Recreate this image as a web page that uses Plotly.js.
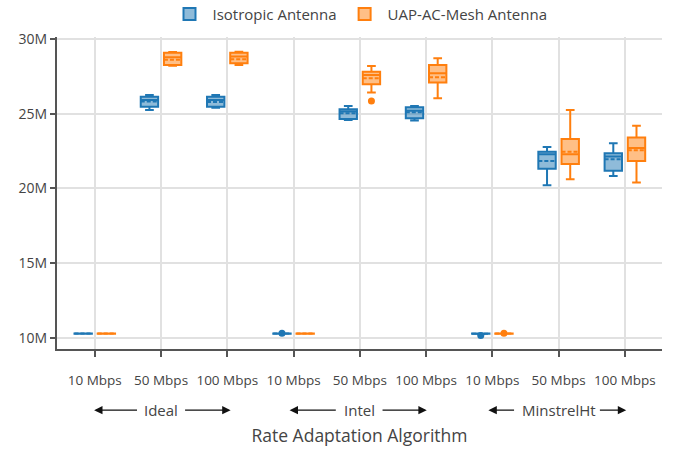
<!DOCTYPE html>
<html>
<head>
<meta charset="utf-8">
<script src="https://cdn.plot.ly/plotly-3.0.1.min.js"></script>
<style>html,body{margin:0;padding:0;background:#fff;}#chart{width:675px;height:450px;}</style>
</head>
<body>
<div id="chart"></div>
<script>
// Categories
const algorithms = ['Ideal', 'Intel', 'MinstrelHt'];
const rates = ['10 Mbps', '50 Mbps', '100 Mbps'];
const seriesNames = ['Isotropic Antenna', 'UAP-AC-Mesh Antenna'];

// Box statistics (throughput in millions), one entry per algorithm x rate
const isoLower  = [10.28, 25.25, 25.40, 10.28, 24.58, 24.54, 10.27, 20.21, 20.84];
const isoQ1     = [10.285, 25.47, 25.47, 10.285, 24.65, 24.70, 10.28, 21.31, 21.19];
const isoMedian = [10.29, 25.92, 25.92, 10.29, 25.14, 25.20, 10.29, 22.29, 22.13];
const isoMean   = [10.29, 25.81, 25.79, 10.29, 25.03, 25.10, 10.28, 21.84, 21.95];
const isoQ3     = [10.295, 26.14, 26.14, 10.295, 25.29, 25.43, 10.30, 22.46, 22.35];
const isoUpper  = [10.30, 26.25, 26.25, 10.30, 25.52, 25.52, 10.30, 22.78, 23.02];
const isoOutliers = [[10.29], [25.9], [25.9], [10.32], [25.1], [25.2], [10.17], [22.3], [22.1]];

const uapLower  = [10.28, 28.21, 28.26, 10.28, 26.41, 26.03, 10.28, 20.62, 20.39];
const uapQ1     = [10.285, 28.26, 28.37, 10.285, 26.97, 27.08, 10.285, 21.64, 21.84];
const uapMedian = [10.29, 28.78, 28.82, 10.29, 27.59, 27.70, 10.29, 22.29, 22.70];
const uapMean   = [10.29, 28.60, 28.64, 10.29, 27.37, 27.44, 10.29, 22.46, 22.55];
const uapQ3     = [10.295, 29.08, 29.08, 10.295, 27.81, 28.26, 10.295, 23.31, 23.40];
const uapUpper  = [10.30, 29.13, 29.15, 10.30, 28.19, 28.71, 10.30, 25.25, 24.20];
const uapOutliers = [[10.29], [28.8], [28.8], [10.29], [25.85], [27.7], [10.32], [22.3], [22.7]];

const colors = ['#1f77b4', '#ff7f0e'];

// Build positions and tick labels
const positions = [];
const tickText = [];
algorithms.forEach((a, ai) => rates.forEach((r, ri) => {
  positions.push(ai * rates.length + ri);
  tickText.push(r);
}));

function boxTrace(name, color, lo, q1, med, mean, q3, up, pts) {
  return {
    type: 'box', name: name, x: positions, y: pts,
    lowerfence: lo, q1: q1, median: med, mean: mean, q3: q3, upperfence: up,
    boxpoints: 'outliers', boxmean: true,
    marker: {color: color, size: 7},
    line: {color: color, width: 2},
    whiskerwidth: 0.5,
    hoverinfo: 'skip'
  };
}

const data = [
  boxTrace(seriesNames[0], colors[0], isoLower, isoQ1, isoMedian, isoMean, isoQ3, isoUpper, isoOutliers),
  boxTrace(seriesNames[1], colors[1], uapLower, uapQ1, uapMedian, uapMean, uapQ3, uapUpper, uapOutliers)
];

// Group labels with arrows below the axis
const groupArrowY = -0.196;
const annotations = [];
const arrowSpans = [[-0.01, 0.66, 1.34, 2.05], [2.94, 3.66, 4.32, 5.01], [5.94, 6.35, 7.60, 8.02]];
algorithms.forEach((a, ai) => {
  const mid = ai * rates.length + 1;
  const s = arrowSpans[ai];
  annotations.push({xref: 'x', yref: 'paper', x: mid, y: groupArrowY, xanchor: 'center', yanchor: 'middle',
    text: a, showarrow: false, font: {size: 15, color: '#444'}});
  annotations.push({xref: 'x', yref: 'paper', x: s[0], y: groupArrowY, axref: 'x', ax: s[1], ayref: 'pixel', ay: 0,
    text: '', showarrow: true, arrowhead: 2, arrowsize: 1.2, arrowwidth: 1.4, arrowcolor: '#111'});
  annotations.push({xref: 'x', yref: 'paper', x: s[3], y: groupArrowY, axref: 'x', ax: s[2], ayref: 'pixel', ay: 0,
    text: '', showarrow: true, arrowhead: 2, arrowsize: 1.2, arrowwidth: 1.4, arrowcolor: '#111'});
});

const layout = {
  width: 675, height: 450,
  margin: {l: 57, r: 13, t: 37, b: 101, autoexpand: false},
  paper_bgcolor: '#fff', plot_bgcolor: '#fff',
  font: {family: '"Open Sans", verdana, arial, sans-serif', color: '#444', size: 13},
  boxmode: 'group', boxgap: 0.3, boxgroupgap: 0.25,
  showlegend: true,
  legend: {orientation: 'h', x: 0.5, xanchor: 'center', y: 1.02, yanchor: 'bottom', font: {size: 15}, itemwidth: 36},
  xaxis: {
    type: 'linear',
    range: [-0.57, 8.56], tickmode: 'array', tickvals: positions, ticktext: tickText,
    showgrid: true, gridcolor: '#e1e1e1', gridwidth: 2, zeroline: false,
    showline: true, linecolor: '#555', linewidth: 2,
    ticks: 'outside', ticklen: 6, tickcolor: '#555', tickwidth: 2,
    ticklabelstandoff: 12,
    tickfont: {size: 13.5},
    title: {text: 'Rate Adaptation Algorithm', font: {size: 17.5}, standoff: 42}
  },
  yaxis: {
    type: 'linear',
    range: [9.26, 30.13], tickmode: 'array', tickvals: [10, 15, 20, 25, 30], ticktext: ['10M', '15M', '20M', '25M', '30M'],
    showgrid: true, gridcolor: '#e1e1e1', gridwidth: 2, zeroline: false,
    showline: true, linecolor: '#555', linewidth: 2,
    ticks: 'outside', ticklen: 5, tickcolor: '#555', tickwidth: 2,
    tickfont: {size: 14}
  },
  annotations: annotations
};

Plotly.newPlot('chart', data, layout, {displayModeBar: false, staticPlot: true});
</script>
</body>
</html>
